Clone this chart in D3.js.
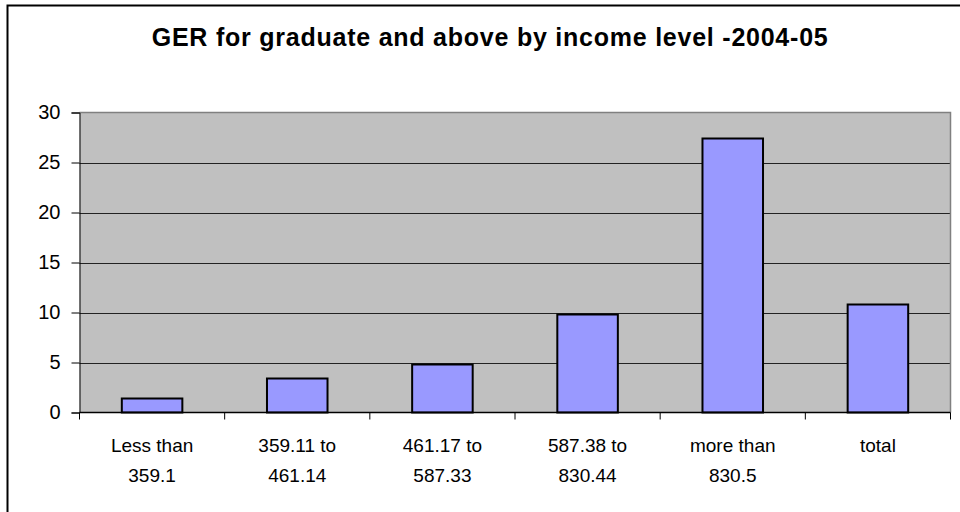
<!DOCTYPE html>
<html>
<head>
<meta charset="utf-8">
<script src="https://cdn.jsdelivr.net/npm/d3@7"></script>
<style>
  html, body { margin: 0; padding: 0; background: #fff; }
  svg { display: block; font-family: Arial, "Liberation Sans", sans-serif; }
</style>
</head>
<body>
<svg id="chart" width="960" height="512"></svg>
<script>
// Income brackets (two-line labels) and GER values
const categories = [
  ["Less than", "359.1"],
  ["359.11 to", "461.14"],
  ["461.17 to", "587.33"],
  ["587.38 to", "830.44"],
  ["more than", "830.5"],
  ["total", ""]
];
const values = [1.4, 3.4, 4.8, 9.8, 27.4, 10.8];
const yTicks = [0, 5, 10, 15, 20, 25, 30];
const title = "GER for graduate and above by income level -2004-05";

const svg = d3.select("#chart");
const plot = { left: 79.5, right: 950.5, top: 112.5, bottom: 412.5 };

// outer chart frame
svg.append("rect")
  .attr("x", 7.5).attr("y", 5.5)
  .attr("width", 980).attr("height", 540)
  .attr("fill", "#fff").attr("stroke", "#000").attr("stroke-width", 2);

const x = d3.scaleBand()
  .domain(d3.range(categories.length))
  .range([plot.left, plot.right])
  .paddingInner(0.583)
  .paddingOuter(0.2915);

const y = d3.scaleLinear().domain([0, 30]).range([plot.bottom, plot.top]);

// plot area background
svg.append("rect")
  .attr("x", plot.left).attr("y", plot.top)
  .attr("width", plot.right - plot.left).attr("height", plot.bottom - plot.top)
  .attr("fill", "#c0c0c0");

// gridlines
svg.append("g")
  .selectAll("line")
  .data(yTicks.filter(t => t > 0 && t < 30))
  .join("line")
  .attr("x1", plot.left).attr("x2", plot.right)
  .attr("y1", d => Math.round(y(d)) + 0.5).attr("y2", d => Math.round(y(d)) + 0.5)
  .attr("stroke", "#222").attr("stroke-width", 1);

// plot border (top and right)
svg.append("path")
  .attr("d", `M${plot.left},${plot.top}H${plot.right}V${plot.bottom}`)
  .attr("fill", "none").attr("stroke", "#808080").attr("stroke-width", 1.5);

// bars
svg.append("g")
  .selectAll("rect")
  .data(values)
  .join("rect")
  .attr("x", (d, i) => x(i))
  .attr("y", d => y(d))
  .attr("width", x.bandwidth())
  .attr("height", d => plot.bottom - y(d))
  .attr("fill", "#9999ff")
  .attr("stroke", "#000")
  .attr("stroke-width", 2);

// y axis
const yAxis = svg.append("g")
  .attr("transform", `translate(${plot.left},0)`)
  .call(d3.axisLeft(y).tickValues(yTicks).tickSize(8).tickPadding(11).tickFormat(d3.format("d")));
yAxis.select(".domain").attr("stroke", "#000");
yAxis.selectAll(".tick line").attr("stroke", "#000");
yAxis.selectAll(".tick text")
  .attr("font-size", 20).attr("fill", "#000")
  .attr("font-family", "Arial, 'Liberation Sans', sans-serif");

// x axis baseline and ticks between categories
const xAxis = svg.append("g");
xAxis.append("line")
  .attr("x1", plot.left).attr("x2", plot.right)
  .attr("y1", plot.bottom).attr("y2", plot.bottom)
  .attr("stroke", "#000").attr("stroke-width", 1.5);
xAxis.selectAll("line.tick")
  .data(d3.range(categories.length + 1))
  .join("line")
  .attr("class", "tick")
  .attr("x1", i => plot.left + i * x.step()).attr("x2", i => plot.left + i * x.step())
  .attr("y1", plot.bottom).attr("y2", plot.bottom + 7)
  .attr("stroke", "#000");

// category labels
const lbl = svg.append("g")
  .selectAll("text")
  .data(categories)
  .join("text")
  .attr("text-anchor", "middle")
  .attr("font-size", 19)
  .attr("fill", "#000")
  .attr("x", (d, i) => x(i) + x.bandwidth() / 2);
lbl.append("tspan").attr("y", 452).text(d => d[0]);
lbl.append("tspan")
  .attr("x", (d, i) => x(i) + x.bandwidth() / 2)
  .attr("y", 482).text(d => d[1]);

// title
svg.append("text")
  .attr("x", 489.7).attr("y", 46)
  .attr("text-anchor", "middle")
  .attr("font-size", 25)
  .attr("font-weight", "bold")
  .attr("fill", "#000")
  .attr("textLength", 676)
  .attr("lengthAdjust", "spacing")
  .text(title);
</script>
</body>
</html>
